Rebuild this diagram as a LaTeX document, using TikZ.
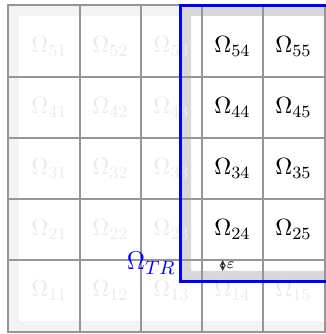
\documentclass[tikz,border=0pt]{standalone}
\usepackage{amsmath,amssymb}
\usepackage{tikz}
\usepackage{xcolor}
\definecolor{bandlight}{HTML}{F3F3F3}
\definecolor{banddark}{HTML}{D8D8D8}
\definecolor{gridgray}{HTML}{969696}
\definecolor{faint}{HTML}{EAEAEA}

\begin{document}
\begin{tikzpicture}[x=1cm,y=1cm]
    \def\eps{0.18}
    \def\rgt{5.02}
    \useasboundingbox (-0.311,-0.213) rectangle (5.033,5.262);
    \clip (-0.311,-0.213) rectangle (5.033,5.262);
    % overlap bands
    \fill[bandlight,even odd rule] (-\eps,-\eps) rectangle (\rgt,5+\eps) (0,0) rectangle (5,5);
    \fill[banddark,even odd rule] (3-2*\eps,1-2*\eps) rectangle (\rgt,5+\eps) (3-\eps,1-\eps) rectangle (5,5);
    % subdomain labels
    \foreach \i in {1,...,5} {
      \foreach \j in {1,...,5} {
        \node[text=faint,font=\fontsize{11}{13}\selectfont] (o\i\j) at (\j-0.5,\i-0.5) {$\Omega_{\i\j}$};
      }
    }
    \foreach \i in {2,...,5} {
      \foreach \j in {4,5} {
        \node[text=black,font=\fontsize{11}{13}\selectfont] (w\i\j) at (\j-0.5,\i-0.5) {$\Omega_{\i\j}$};
      }
    }
    % grid
    \foreach \k in {1,...,4} {
      \draw[gridgray,line width=0.6pt] (\k,-\eps) -- (\k,5+\eps);
      \draw[gridgray,line width=0.6pt] (-\eps,\k) -- (\rgt,\k);
    }
    \draw[gridgray,line width=0.7pt] (-\eps,-\eps) rectangle (\rgt,5+\eps);
    % top right subdomain
    \draw[blue,line width=1.4pt] (3-2*\eps,1-2*\eps) rectangle (5+2*\eps,5+\eps);
    \node[text=blue,font=\fontsize{13}{15}\selectfont,anchor=base east,inner sep=1pt] (tr) at (3-2*\eps-0.03,0.84) {$\Omega_{TR}$};
    \coordinate (e1) at (3.34,1);
    \coordinate (e2) at (3.34,1-\eps);
    \draw[black!80,line width=0.3pt,<->,>=stealth] (e1) -- (e2);
    \node[font=\scriptsize,anchor=west,inner sep=1pt] (eps) at (3.36,1-0.45*\eps) {$\varepsilon$};
  \end{tikzpicture}
\end{document}
